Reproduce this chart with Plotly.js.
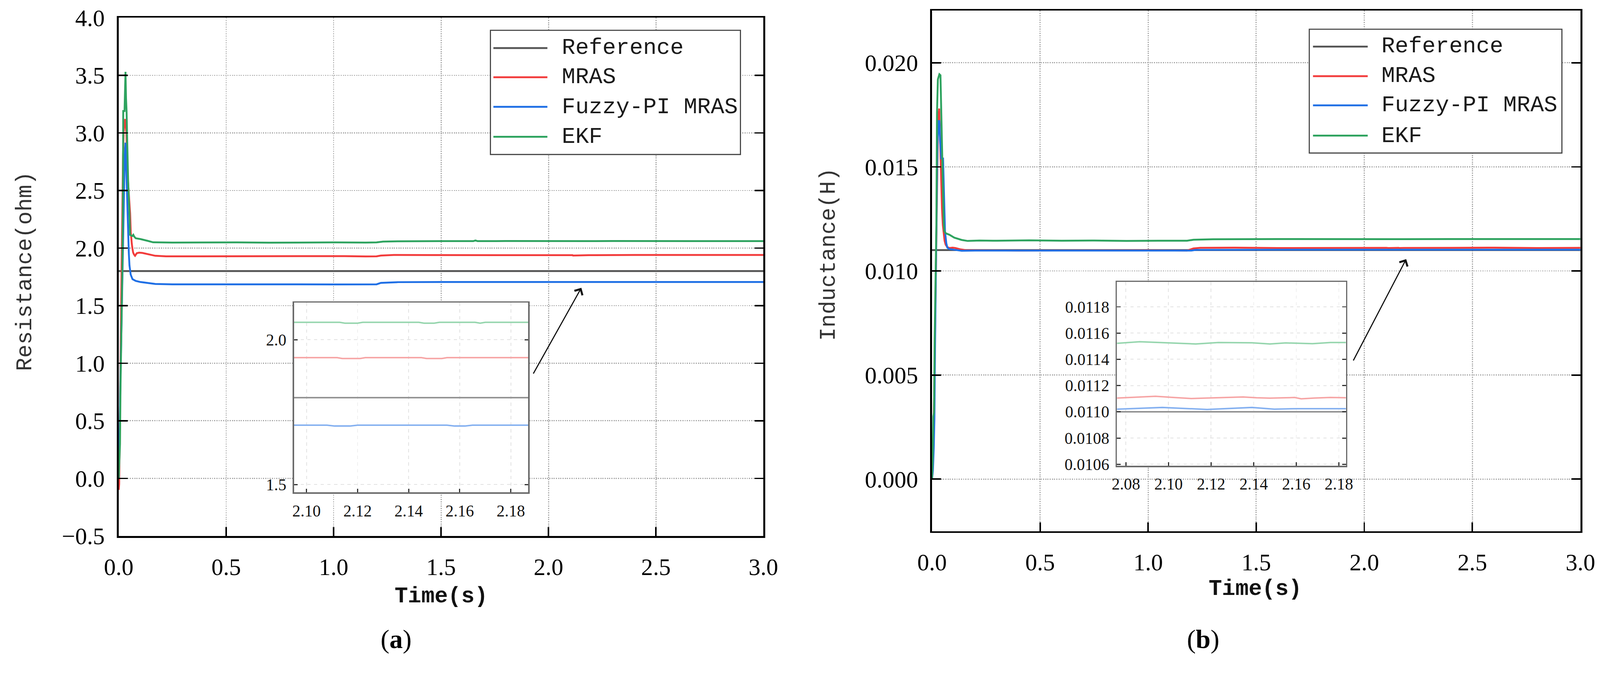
<!DOCTYPE html>
<html>
<head>
<meta charset="utf-8">
<script src="https://cdn.plot.ly/plotly-3.0.1.min.js"></script>
<style>
  html, body { margin: 0; padding: 0; background: #fff; overflow: hidden; }
  #chart { width: 4326px; height: 1788px; transform-origin: 0 0; }
</style>
</head>
<body>
<div id="chart"></div>
<script>
// ---- (a) resistance estimates, ohm ----
const tResRef = [0, 3.0];
const resRef = [1.8, 1.8];

const tResMras = [0, 0.002, 0.004, 0.006, 0.008, 0.011, 0.014, 0.017, 0.020, 0.023, 0.027, 0.030, 0.033, 0.036, 0.039,
  0.043, 0.047, 0.050, 0.053, 0.056, 0.058, 0.061, 0.064, 0.067, 0.071, 0.076, 0.084, 0.095, 0.110, 0.135,
  0.170, 0.220, 0.300, 0.450, 0.600, 0.750, 0.900, 1.050, 1.150, 1.200, 1.220, 1.250, 1.280, 1.450, 1.700,
  1.950, 2.076, 2.112, 2.114, 2.121, 2.123, 2.145, 2.147, 2.153, 2.155, 2.187, 2.400, 2.700, 3.000];
const resMras = [-0.10, -0.05, 0.25, 0.70, 1.05, 1.45, 1.90, 2.40, 2.80, 3.00, 3.10, 3.12, 3.06, 2.99, 2.70,
  2.58, 2.49, 2.40, 2.30, 2.14, 2.09, 2.035, 1.995, 1.962, 1.945, 1.933, 1.955, 1.960, 1.958, 1.949,
  1.933, 1.928, 1.928, 1.931, 1.929, 1.932, 1.928, 1.930, 1.927, 1.928, 1.935, 1.938, 1.940, 1.939, 1.940,
  1.939, 1.938, 1.938, 1.935, 1.935, 1.938, 1.938, 1.935, 1.935, 1.938, 1.938, 1.940, 1.939, 1.940];

const tResFuzzy = [0, 0.002, 0.005, 0.007, 0.0097, 0.0125, 0.015, 0.018, 0.021, 0.024, 0.028, 0.0315, 0.034, 0.037, 0.041,
  0.044, 0.047, 0.050, 0.0556, 0.064, 0.079, 0.101, 0.136, 0.170, 0.250, 0.400, 0.600, 0.800, 1.000, 1.200,
  1.220, 1.260, 1.300, 1.500, 1.700, 1.900, 2.076, 2.108, 2.111, 2.117, 2.120, 2.155, 2.158, 2.162, 2.165,
  2.187, 2.400, 2.700, 3.000];
const resFuzzy = [0, 0.15, 0.45, 0.75, 1.02, 1.42, 1.70, 1.955, 2.25, 2.49, 2.81, 2.915, 2.755, 2.49, 2.30,
  2.09, 1.955, 1.85, 1.77, 1.73, 1.715, 1.705, 1.695, 1.688, 1.685, 1.686, 1.684, 1.685, 1.684, 1.685,
  1.698, 1.702, 1.704, 1.705, 1.704, 1.705, 1.705, 1.705, 1.702, 1.702, 1.705, 1.705, 1.702, 1.702, 1.705,
  1.705, 1.705, 1.704, 1.705];

const tResEkf = [0, 0.003, 0.006, 0.008, 0.011, 0.014, 0.017, 0.019, 0.021, 0.027, 0.029, 0.0315, 0.034, 0.0365, 0.040,
  0.044, 0.0498, 0.0527, 0.058, 0.064, 0.068, 0.072, 0.079, 0.101, 0.136, 0.160, 0.250, 0.400, 0.550, 0.700,
  0.850, 1.000, 1.150, 1.200, 1.230, 1.300, 1.500, 1.650, 1.660, 1.670, 1.800, 1.950, 2.076, 2.113, 2.115,
  2.120, 2.122, 2.144, 2.146, 2.150, 2.152, 2.166, 2.168, 2.170, 2.187, 2.300, 2.500, 2.750, 3.000];
const resEkf = [0, 0.12, 0.30, 0.75, 1.10, 1.40, 1.82, 2.27, 3.19, 3.19, 3.40, 3.53, 3.30, 3.19, 2.89,
  2.57, 2.30, 2.115, 2.108, 2.105, 2.115, 2.100, 2.085, 2.078, 2.062, 2.050, 2.048, 2.050, 2.049, 2.047,
  2.050, 2.049, 2.048, 2.049, 2.056, 2.059, 2.060, 2.060, 2.066, 2.060, 2.061, 2.060, 2.060, 2.060, 2.057,
  2.057, 2.060, 2.060, 2.057, 2.057, 2.060, 2.060, 2.057, 2.060, 2.060, 2.061, 2.060, 2.061, 2.060];

// ---- (b) inductance estimates, H ----
const tIndRef = [0, 3.0];
const indRef = [0.011, 0.011];

const tIndMras = [0, 0.003, 0.006, 0.009, 0.012, 0.015, 0.018, 0.021, 0.024, 0.027, 0.030, 0.033, 0.036, 0.040, 0.043,
  0.046, 0.050, 0.054, 0.058, 0.063, 0.070, 0.080, 0.095, 0.108, 0.130, 0.154, 0.200, 0.400, 0.600, 0.800,
  1.000, 1.180, 1.210, 1.240, 1.400, 1.600, 1.800, 2.000, 2.0760, 2.0865, 2.0939, 2.1023, 2.1107, 2.1181, 2.1287,
  2.1350, 2.1413, 2.1476, 2.1550, 2.1592, 2.1623, 2.1686, 2.1760, 2.1834, 2.400, 2.600, 2.800, 3.000];
const indMras = [0, 0.0005, 0.0015, 0.0030, 0.0055, 0.0080, 0.0105, 0.0130, 0.0152, 0.0166, 0.0175, 0.0178, 0.0168, 0.0150, 0.0140,
  0.0130, 0.0122, 0.0117, 0.01145, 0.01126, 0.01115, 0.01110, 0.01112, 0.01110, 0.01104, 0.01100, 0.01099, 0.01098, 0.01099, 0.01098,
  0.01099, 0.01098, 0.01108, 0.01111, 0.01112, 0.01110, 0.01111, 0.01112, 0.011105, 0.011113, 0.011118, 0.011109, 0.011101, 0.011105, 0.011109,
  0.011113, 0.011107, 0.011104, 0.011107, 0.011109, 0.011099, 0.011105, 0.011109, 0.011107, 0.01111, 0.01112, 0.01110, 0.01111];

const tIndFuzzy = [0, 0.004, 0.008, 0.011, 0.014, 0.017, 0.020, 0.025, 0.031, 0.034, 0.037, 0.043, 0.051, 0.054, 0.057,
  0.060, 0.066, 0.071, 0.080, 0.100, 0.137, 0.200, 0.400, 0.600, 0.800, 1.000, 1.200, 1.220, 1.400, 1.700,
  2.000, 2.0760, 2.0971, 2.1181, 2.1392, 2.1497, 2.1602, 2.1834, 2.400, 2.700, 3.000];
const indFuzzy = [0, 0.0004, 0.0015, 0.0029, 0.0065, 0.0094, 0.0120, 0.0162, 0.0172, 0.0172, 0.0163, 0.0154, 0.0154, 0.0139, 0.0127,
  0.0119, 0.01133, 0.01112, 0.01105, 0.01102, 0.01097, 0.01098, 0.01098, 0.01097, 0.01098, 0.01098, 0.01098, 0.01101, 0.01102, 0.01102,
  0.01102, 0.011020, 0.011033, 0.011018, 0.011033, 0.011020, 0.011024, 0.011029, 0.01102, 0.01103, 0.01102];

const tIndEkf = [0, 0.003, 0.006, 0.009, 0.012, 0.016, 0.020, 0.023, 0.027, 0.034, 0.039, 0.043, 0.048, 0.051, 0.054,
  0.057, 0.065, 0.080, 0.103, 0.137, 0.165, 0.220, 0.300, 0.450, 0.600, 0.750, 0.900, 1.050, 1.180, 1.210,
  1.300, 1.600, 1.900, 2.0760, 2.0865, 2.0971, 2.1128, 2.1234, 2.1392, 2.1476, 2.1550, 2.1676, 2.1760, 2.1834, 2.400,
  2.700, 3.000];
const indEkf = [0, 0.0010, 0.0030, 0.0032, 0.0067, 0.0097, 0.0122, 0.0176, 0.0192, 0.01945, 0.0194, 0.0175, 0.0152, 0.0139, 0.0123,
  0.0119, 0.0118, 0.01174, 0.01160, 0.01149, 0.01144, 0.01146, 0.01145, 0.01147, 0.01145, 0.01146, 0.01144, 0.01145, 0.01145, 0.01150,
  0.01152, 0.01153, 0.01152, 0.011522, 0.011534, 0.011527, 0.011517, 0.011528, 0.011526, 0.011517, 0.011525, 0.011519, 0.011528, 0.011528, 0.01153,
  0.01152, 0.01153];

// ---- labels / ticks ----
const seriesNames = ['Reference', 'MRAS', 'Fuzzy-PI MRAS', 'EKF'];
const mainColors = ['#555555', '#f23b3b', '#1f6fe5', '#2ea35f'];
const insetColors = ['#8e8e8e', '#f6a4a4', '#84b0f0', '#95d5ad'];
const timeTicks = [0, 0.5, 1.0, 1.5, 2.0, 2.5, 3.0];
const resTicks = [-0.5, 0, 0.5, 1.0, 1.5, 2.0, 2.5, 3.0, 3.5, 4.0];
const indTicks = [0, 0.005, 0.010, 0.015, 0.020];
const resInsetXTicks = [2.10, 2.12, 2.14, 2.16, 2.18];
const resInsetYTicks = [1.5, 2.0];
const indInsetXTicks = [2.08, 2.10, 2.12, 2.14, 2.16, 2.18];
const indInsetYTicks = [0.0106, 0.0108, 0.0110, 0.0112, 0.0114, 0.0116, 0.0118];

const W = 4326, H = 1788;
function px(x) { return x / W; }
function py(y) { return 1 - y / H; }

// the window may report fewer css pixels than the photo has: fit the whole figure in it
const fit = Math.min(window.innerWidth / W, window.innerHeight / H) || 1;
document.getElementById('chart').style.transform = `scale(${fit})`;

const serif = 'Liberation Serif, DejaVu Serif, serif';
const mono = 'Liberation Mono, DejaVu Sans Mono, monospace';

function mainAxis(domain, ticks, fmt, isY) {
  return {
    domain: domain, tickvals: ticks, tickformat: fmt,
    showline: true, linecolor: '#000', linewidth: 5, mirror: isY ? 'ticks' : true,
    ticks: 'inside', ticklen: 24, tickwidth: 4, tickcolor: '#000',
    ticklabelstandoff: isY ? 20 : 24,
    showgrid: true, gridcolor: '#a8a8a8', gridwidth: 3, griddash: 'dot',
    zeroline: false,
    tickfont: {family: serif, size: 64, color: '#000'}
  };
}

function insetAxis(domain, range, ticks, fmt, isY) {
  return {
    domain: domain, range: range, tickvals: ticks, tickformat: fmt,
    showline: true, linecolor: '#6a6a6a', linewidth: 4, mirror: isY ? 'ticks' : true,
    ticks: 'inside', ticklen: 10, tickwidth: 3, tickcolor: '#333',
    ticklabelstandoff: 8,
    showgrid: true, gridcolor: '#e2e2e2', gridwidth: 2, griddash: 'dash',
    zeroline: false,
    tickfont: {family: serif, size: 44, color: '#111'}
  };
}

function addSeries(traces, xs, ys, xa, ya, colors, width) {
  for (let i = 0; i < xs.length; i++) {
    traces.push({
      x: xs[i], y: ys[i], xaxis: xa, yaxis: ya,
      type: 'scatter', mode: 'lines', name: seriesNames[i],
      line: {color: colors[i], width: width, shape: 'linear'},
      showlegend: false, hoverinfo: 'skip'
    });
  }
}

const resX = [tResRef, tResMras, tResFuzzy, tResEkf];
const resY = [resRef, resMras, resFuzzy, resEkf];
const indX = [tIndRef, tIndMras, tIndFuzzy, tIndEkf];
const indY = [indRef, indMras, indFuzzy, indEkf];

const traces = [];
addSeries(traces, resX, resY, 'x', 'y', mainColors, 5);
addSeries(traces, resX, resY, 'x2', 'y2', insetColors, 4);
addSeries(traces, indX, indY, 'x3', 'y3', mainColors, 5);
addSeries(traces, indX, indY, 'x4', 'y4', insetColors, 4);

// hand-made legend boxes (box, sample lines, labels)
const shapes = [];
const annotations = [];

function addLegend(box, lineX, rowsY, textX) {
  shapes.push({
    type: 'rect', xref: 'paper', yref: 'paper', layer: 'above',
    x0: px(box[0]), x1: px(box[1]), y0: py(box[3]), y1: py(box[2]),
    fillcolor: '#fff', line: {color: '#444', width: 3}
  });
  for (let i = 0; i < seriesNames.length; i++) {
    shapes.push({
      type: 'line', xref: 'paper', yref: 'paper', layer: 'above',
      x0: px(lineX[0]), x1: px(lineX[1]), y0: py(rowsY[i]), y1: py(rowsY[i]),
      line: {color: mainColors[i], width: 5}
    });
    annotations.push({
      xref: 'paper', yref: 'paper', x: px(textX), y: py(rowsY[i]),
      xanchor: 'left', yanchor: 'middle', showarrow: false,
      text: seriesNames[i], font: {family: mono, size: 61, color: '#1a1a1a'}
    });
  }
}

addLegend([1326, 2002, 82, 418], [1334, 1480], [130, 209, 289, 370], 1517);
addLegend([3540, 4223, 79, 414], [3550, 3698], [126, 206, 285, 367], 3733);

function addText(text, x, y, font, angle) {
  annotations.push({
    xref: 'paper', yref: 'paper', x: px(x), y: py(y),
    xanchor: 'center', yanchor: 'middle', showarrow: false,
    text: text, font: font, textangle: angle || 0
  });
}

addText('Resistance(ohm)', 69, 734, {family: mono, size: 60, color: '#333'}, -90);
addText('Inductance(H)', 2241, 688, {family: mono, size: 60, color: '#333'}, -90);
addText('<b>Time(s)</b>', 1193, 1614, {family: mono, size: 60, color: '#111'});
addText('<b>Time(s)</b>', 3394, 1594, {family: mono, size: 60, color: '#111'});
addText('(<b>a</b>)', 1071, 1729, {family: serif, size: 72, color: '#000'});
addText('(<b>b</b>)', 3253, 1729, {family: serif, size: 72, color: '#000'});

// arrows from the insets to the zoomed region
annotations.push({
  xref: 'x', yref: 'y', axref: 'x', ayref: 'y',
  x: 2.153, y: 1.655, ax: 1.928, ay: 0.905, text: '',
  showarrow: true, arrowhead: 4, arrowsize: 1.6, arrowwidth: 3, arrowcolor: '#111', standoff: 0
});
annotations.push({
  xref: 'x3', yref: 'y3', axref: 'x3', ayref: 'y3',
  x: 2.194, y: 0.01057, ax: 1.948, ay: 0.00567, text: '',
  showarrow: true, arrowhead: 4, arrowsize: 1.6, arrowwidth: 3, arrowcolor: '#111', standoff: 0
});

const layout = {
  width: W, height: H,
  margin: {l: 0, r: 0, t: 0, b: 0},
  paper_bgcolor: '#fff', plot_bgcolor: '#fff',
  showlegend: false,
  xaxis: Object.assign(mainAxis([px(321), px(2064)], timeTicks, '.1f', false), {range: [0, 3.0], anchor: 'y'}),
  yaxis: Object.assign(mainAxis([py(1450), py(48)], resTicks, '.1f', true), {range: [-0.5, 4.0], anchor: 'x'}),
  xaxis2: Object.assign(insetAxis([px(795), px(1428)], [2.0951, 2.1868], resInsetXTicks, '.2f', false), {anchor: 'y2'}),
  yaxis2: Object.assign(insetAxis([py(1332), py(819)], [1.473, 2.1276], resInsetYTicks, '.1f', true), {anchor: 'x2'}),
  xaxis3: Object.assign(mainAxis([px(2520), px(4273)], timeTicks, '.1f', false), {range: [0, 3.0], anchor: 'y3'}),
  yaxis3: Object.assign(mainAxis([py(1437), py(29)], indTicks, '.3f', true), {range: [-0.0025, 0.0225], anchor: 'x3'}),
  xaxis4: Object.assign(insetAxis([px(3020), px(3639)], [2.0758, 2.1833], indInsetXTicks, '.2f', false), {anchor: 'y4'}),
  yaxis4: Object.assign(insetAxis([py(1260), py(763)], [0.010589, 0.011989], indInsetYTicks, '.4f', true), {anchor: 'x4'}),
  shapes: shapes,
  annotations: annotations
};

Plotly.newPlot('chart', traces, layout, {staticPlot: true, displayModeBar: false});
</script>
</body>
</html>
